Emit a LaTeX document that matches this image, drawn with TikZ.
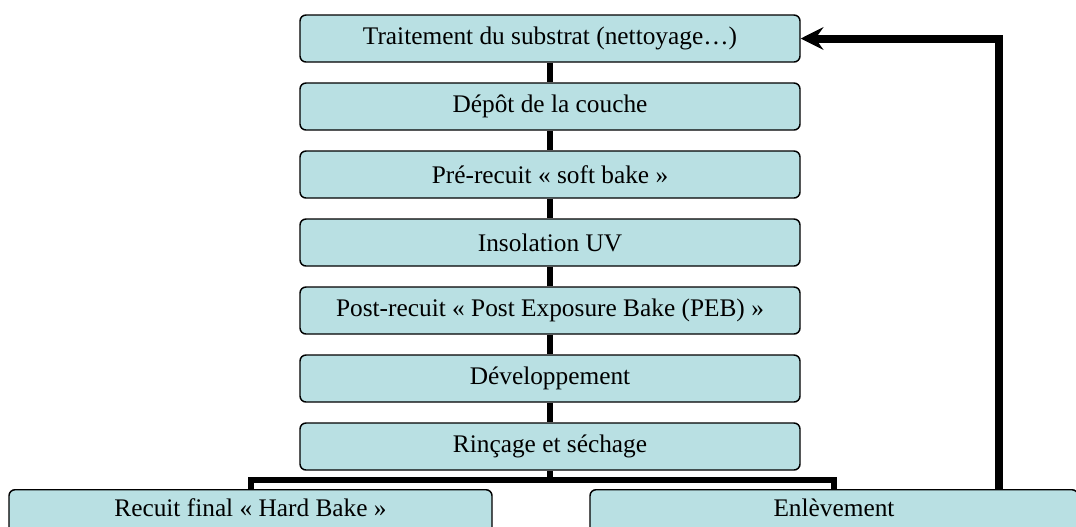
\documentclass[tikz,border=0pt]{standalone}
\usepackage{fontspec}
\setmainfont{Liberation Serif}
\usetikzlibrary{arrows.meta,positioning,calc}
\definecolor{boxfill}{RGB}{185,224,227}

\begin{document}
\begin{tikzpicture}[
  font=\fontsize{19}{22}\selectfont,
  stage/.style={draw=black,fill=boxfill,rounded corners=4.5pt,line width=1.1pt,
    minimum width=375pt,minimum height=35.25pt,inner sep=0pt,align=center},
  final/.style={stage,anchor=north,text height=14pt,text depth=9pt},
  line/.style={line width=4.5pt,draw=black},
  loop/.style={-{Stealth[length=17pt,width=17pt,inset=6pt]},line width=6pt,draw=black},
  node distance=14.65pt]
\useasboundingbox (0,0) rectangle (807pt,-394.5pt);
\node[stage] (substrat) at (412.5pt,-28.875pt) {Traitement du substrat (nettoyage…)};
\node[stage,below=of substrat] (depot) {Dépôt de la couche};
\node[stage,below=of depot] (prerecuit) {Pré-recuit « soft bake »};
\node[stage,below=of prerecuit] (insolation) {Insolation UV};
\node[stage,below=of insolation] (postrecuit) {Post-recuit « Post Exposure Bake (PEB) »};
\node[stage,below=of postrecuit] (developpement) {Développement};
\node[stage,below=of developpement] (rincage) {Rinçage et séchage};
\node[final,minimum width=362.25pt] (hardbake) at (187.875pt,-366.75pt) {Recuit final « Hard Bake »};
\node[final,minimum width=366pt] (enlevement) at (625.5pt,-366.75pt) {Enlèvement};
\coordinate (split) at ($(rincage.south)+(0,-6.75pt)$);
\coordinate (rise) at (749.25pt,-366.75pt);
\draw[line] (substrat)--(depot);
\draw[line] (depot)--(prerecuit);
\draw[line] (prerecuit)--(insolation);
\draw[line] (insolation)--(postrecuit);
\draw[line] (postrecuit)--(developpement);
\draw[line] (developpement)--(rincage);
\draw[line] (rincage.south)--(split);
\draw[line] (hardbake.north) |- (split) -| (enlevement.north);
\draw[loop] (rise) |- (substrat.east);
\end{tikzpicture}
\end{document}
